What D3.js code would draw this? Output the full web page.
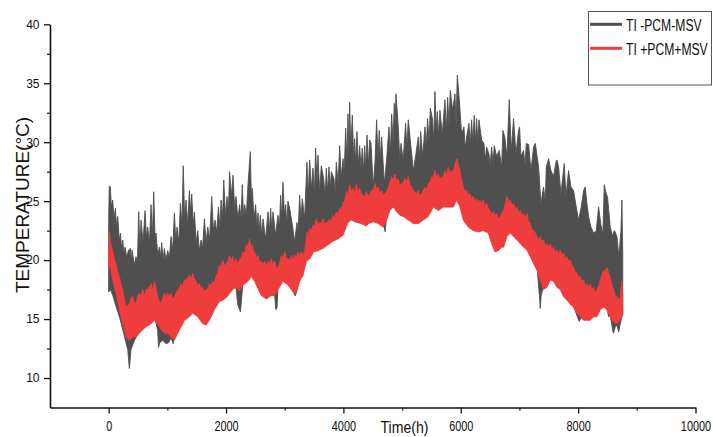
<!DOCTYPE html>
<html>
<head>
<meta charset="utf-8">
<script src="https://cdn.jsdelivr.net/npm/d3@7"></script>
<style>
  html, body { margin: 0; padding: 0; background: #fff; }
  svg { display: block; font-family: "Liberation Sans", Arial, sans-serif; }
</style>
</head>
<body>
<svg id="chart" width="713" height="437"></svg>
<script>
const xTicks = [0, 2000, 4000, 6000, 8000, 10000];
const xMinorTicks = [1000, 3000, 5000, 7000, 9000];
const yTicks = [10, 15, 20, 25, 30, 35, 40];
const yMinorTicks = [12.5, 17.5, 22.5, 27.5, 32.5, 37.5];
const seriesNames = ["TI -PCM-MSV", "TI +PCM+MSV"];
const seriesColors = ["#4f4f4f", "#ef3c3c"];

// Hourly indoor temperature envelopes, [hour, °C]: upper and lower edge of each series
const noPcmUpper = [
  [0,23.5],[10,26.3],[29,26.2],[45,24.5],[69,25.1],[90,23.5],[114,24.4],[135,22.8],[155,23.7],[180,21.6],
  [200,22.3],[220,21.0],[239,21.7],[260,20.6],[279,21.1],[310,20.2],[335,20.8],[370,21.0],[385,19.9],[398,20.85],
  [440,19.6],[466,20.3],[490,19.8],[512,24.1],[532,21.0],[552,23.4],[585,21.5],[620,24.2],[645,21.8],[665,22.8],
  [695,21.5],[722,24.7],[745,22.0],[768,25.8],[790,22.0],[807,22.3],[835,20.5],[864,21.1],[885,20.3],[904,21.5],
  [925,20.0],[949,21.0],[975,20.0],[1006,20.8],[1035,20.2],[1063,22.0],[1090,20.8],[1120,24.0],[1145,21.5],[1165,22.8],
  [1195,21.5],[1222,24.8],[1248,23.0],[1270,28.0],[1295,23.5],[1319,25.1],[1345,23.0],[1376,25.9],[1395,24.0],[1415,25.6],
  [1440,23.0],[1461,24.1],[1490,21.5],[1518,22.5],[1545,20.8],[1575,21.7],[1600,21.0],[1631,23.5],[1660,21.5],[1688,22.8],
  [1720,21.8],[1756,25.4],[1785,22.5],[1813,23.4],[1840,22.3],[1870,24.5],[1895,22.8],[1915,25.1],[1940,23.5],[1961,26.8],
  [1990,23.8],[2018,25.4],[2040,24.0],[2060,27.5],[2095,25.5],[2120,27.2],[2145,24.5],[2171,25.4],[2200,23.5],[2232,24.7],
  [2255,23.5],[2277,26.4],[2300,23.5],[2317,24.7],[2345,23.8],[2374,26.4],[2414,29.2],[2430,25.5],[2448,26.1],[2475,23.5],
  [2504,24.7],[2525,22.8],[2544,24.0],[2565,22.5],[2584,23.8],[2610,22.0],[2629,23.5],[2675,21.8],[2715,24.1],[2740,22.5],
  [2760,24.4],[2780,22.5],[2800,24.1],[2845,22.1],[2885,23.8],[2910,22.8],[2930,25.5],[2950,23.5],[2970,26.6],[2995,23.8],
  [3016,24.7],[3035,23.0],[3055,25.0],[3084,24.4],[3129,23.0],[3169,21.6],[3209,23.2],[3230,22.5],[3254,25.5],[3275,23.5],
  [3300,25.2],[3339,23.5],[3379,28.3],[3400,25.5],[3425,28.5],[3455,26.0],[3481,27.8],[3505,25.5],[3527,29.5],[3550,26.5],
  [3567,28.9],[3595,25.8],[3623,28.0],[3663,26.9],[3690,25.5],[3709,27.8],[3730,25.8],[3754,27.9],[3775,26.0],[3794,27.5],
  [3839,26.9],[3860,25.8],[3879,28.3],[3910,26.5],[3936,29.7],[3965,27.0],[3993,28.6],[4015,27.5],[4038,31.2],[4060,28.5],
  [4078,32.4],[4095,29.0],[4106,33.4],[4125,29.5],[4152,32.3],[4175,28.5],[4191,30.3],[4210,28.2],[4231,30.9],[4255,28.0],
  [4277,29.7],[4300,27.8],[4322,29.5],[4345,27.5],[4362,29.7],[4380,27.8],[4402,30.6],[4425,28.0],[4447,30.2],[4470,29.9],
  [4509,26.2],[4540,28.5],[4566,31.9],[4590,28.5],[4611,31.0],[4630,28.5],[4651,30.45],[4697,26.5],[4736,28.5],[4776,31.3],
  [4800,29.0],[4822,32.4],[4845,30.0],[4867,33.3],[4880,31.0],[4895,34.1],[4935,31.3],[4960,28.5],[4981,29.9],[5020,28.5],
  [5060,31.6],[5080,29.5],[5106,31.9],[5151,29.6],[5191,27.6],[5230,28.8],[5276,30.45],[5295,28.5],[5316,30.9],[5350,28.8],
  [5390,31.3],[5410,29.5],[5435,32.0],[5460,30.0],[5481,32.9],[5520,31.9],[5540,30.0],[5560,34.3],[5580,31.0],[5600,32.6],
  [5620,30.5],[5645,32.7],[5685,30.7],[5730,33.6],[5755,31.0],[5776,33.8],[5800,31.5],[5821,34.4],[5861,32.7],[5901,34.1],
  [5920,31.5],[5941,35.7],[5975,33.6],[6014,30.7],[6054,31.3],[6075,29.5],[6100,30.45],[6139,31.6],[6160,29.8],[6185,31.9],
  [6205,30.0],[6230,32.3],[6250,30.0],[6270,32.0],[6290,30.0],[6310,31.9],[6355,30.2],[6395,29.9],[6420,28.5],[6440,29.6],
  [6480,29.0],[6500,28.0],[6526,29.6],[6550,28.2],[6571,29.7],[6611,28.8],[6656,29.3],[6696,27.9],[6718,31.0],[6752,30.4],
  [6786,28.8],[6826,33.6],[6860,29.3],[6900,32.0],[6940,29.0],[6985,31.0],[7002,31.3],[7025,28.8],[7070,29.3],[7095,28.0],
  [7116,29.9],[7156,29.8],[7196,27.6],[7241,29.6],[7270,29.9],[7300,28.8],[7326,27.9],[7366,24.8],[7411,26.2],[7440,25.0],
  [7457,27.9],[7497,28.6],[7536,27.6],[7582,27.1],[7622,28.3],[7639,28.5],[7667,27.9],[7707,25.6],[7763,28.2],[7792,25.4],
  [7837,27.6],[7877,26.2],[7922,25.9],[7968,24.5],[8008,23.4],[8053,24.5],[8093,25.9],[8121,26.2],[8150,24.8],[8178,23.7],
  [8218,22.8],[8263,22.3],[8309,22.5],[8349,24.5],[8388,23.0],[8422,22.3],[8445,26.4],[8470,25.8],[8502,25.3],[8547,22.8],
  [8587,22.0],[8603,22.4],[8621,22.5],[8661,22.0],[8695,20.3],[8729,22.5],[8746,25.1],[8760,20.5]
];
const noPcmLower = [
  [0,17.3],[30,17.5],[70,17.0],[130,16.0],[182,15.2],[215,14.6],[270,13.5],[325,12.4],[340,11.5],[352,10.8],
  [365,11.5],[380,12.4],[440,13.2],[495,13.7],[523,14.1],[580,14.4],[637,14.65],[722,14.9],[779,15.1],[810,14.6],
  [835,14.0],[850,12.6],[870,13.0],[920,13.2],[980,12.9],[1020,13.0],[1063,13.4],[1100,12.9],[1120,13.5],[1177,14.1],
  [1234,14.65],[1291,15.2],[1376,15.5],[1433,15.8],[1518,15.5],[1603,14.9],[1660,14.8],[1716,15.2],[1802,16.1],[1887,16.8],
  [1944,16.9],[2018,17.2],[2114,17.8],[2171,17.6],[2200,16.2],[2245,15.6],[2270,17.0],[2288,18.2],[2374,18.5],[2430,18.9],
  [2487,18.5],[2544,17.9],[2601,17.3],[2686,17.0],[2771,17.3],[2828,17.0],[2850,15.8],[2870,16.0],[2885,17.8],[2970,18.5],
  [3055,18.2],[3141,17.5],[3169,17.0],[3185,17.0],[3197,17.5],[3254,18.5],[3311,19.0],[3368,20.2],[3425,20.4],[3493,21.0],
  [3567,21.1],[3652,21.3],[3737,21.6],[3822,21.9],[3907,22.1],[3993,22.4],[4078,23.5],[4135,23.7],[4220,23.5],[4305,23.4],
  [4390,23.2],[4509,23.55],[4594,23.4],[4680,23.1],[4712,22.4],[4736,23.7],[4793,24.5],[4850,24.8],[4907,24.4],[4963,24.1],
  [5020,24.0],[5106,23.7],[5191,23.4],[5276,23.4],[5361,23.7],[5446,24.0],[5532,24.8],[5617,24.5],[5702,24.8],[5787,24.8],
  [5873,24.8],[5929,25.4],[5986,24.8],[6043,23.7],[6128,23.1],[6213,22.8],[6298,22.7],[6384,22.8],[6469,22.6],[6526,21.7],
  [6582,21.0],[6639,21.1],[6696,21.4],[6786,22.3],[6843,22.6],[6900,22.3],[6957,22.0],[7014,21.7],[7070,21.4],[7127,21.15],
  [7184,20.6],[7241,20.0],[7298,19.45],[7340,17.0],[7354,15.9],[7370,17.0],[7411,17.8],[7468,18.0],[7525,18.6],[7582,18.5],
  [7638,18.0],[7695,17.8],[7752,17.2],[7809,16.9],[7866,16.3],[7876,16.2],[7900,16.3],[7950,15.7],[8018,14.8],[8036,15.0],
  [8093,15.2],[8150,15.2],[8206,15.2],[8263,15.5],[8320,15.5],[8377,16.1],[8434,16.3],[8490,16.0],[8518,15.2],[8547,15.3],
  [8590,14.0],[8603,13.8],[8630,14.3],[8661,14.5],[8690,13.9],[8718,14.6],[8760,15.5]
];
const pcmUpper = [
  [0,20.5],[12,22.4],[40,21.2],[69,20.8],[100,20.0],[126,19.7],[155,19.0],[182,18.6],[210,18.0],[239,17.5],
  [270,16.6],[296,16.0],[325,16.2],[353,16.3],[380,16.8],[410,16.9],[440,16.4],[466,16.3],[495,17.0],[523,17.2],
  [550,17.0],[580,17.5],[610,17.0],[637,17.5],[680,17.6],[722,18.0],[750,17.4],[779,18.2],[810,17.5],[836,16.9],
  [865,16.5],[893,16.3],[920,16.8],[949,17.2],[980,16.8],[1006,17.2],[1035,16.9],[1063,17.2],[1090,16.7],[1120,16.9],
  [1150,17.2],[1177,17.5],[1205,17.6],[1234,18.0],[1260,17.8],[1291,18.3],[1330,18.4],[1376,18.7],[1405,18.4],[1433,18.9],
  [1460,18.4],[1490,18.2],[1518,17.8],[1546,18.0],[1575,17.6],[1603,17.7],[1630,17.3],[1660,17.5],[1690,17.6],[1716,18.0],
  [1745,17.8],[1773,18.2],[1800,18.0],[1830,18.6],[1860,19.0],[1887,19.6],[1915,19.4],[1944,20.0],[1970,19.5],[2001,19.7],
  [2030,19.9],[2058,20.4],[2085,20.0],[2114,20.3],[2140,19.8],[2175,20.1],[2200,19.6],[2232,20.1],[2260,20.2],[2288,20.7],
  [2315,20.5],[2345,21.3],[2375,21.2],[2402,21.8],[2425,21.0],[2448,21.3],[2470,20.6],[2487,20.7],[2515,20.2],[2544,20.4],
  [2570,19.8],[2601,19.9],[2630,19.6],[2658,19.9],[2685,19.5],[2715,19.9],[2745,19.7],[2771,20.1],[2800,19.6],[2828,19.9],
  [2855,19.4],[2885,19.3],[2915,19.8],[2942,20.4],[2970,20.2],[2999,20.7],[3025,20.2],[3055,20.1],[3085,20.0],[3112,20.4],
  [3140,20.0],[3169,20.4],[3200,20.3],[3226,20.7],[3255,20.4],[3283,20.7],[3310,20.4],[3339,20.7],[3360,21.6],[3379,22.4],
  [3400,22.0],[3425,22.7],[3450,22.4],[3481,23.0],[3510,22.8],[3538,23.5],[3565,23.0],[3595,23.2],[3625,23.1],[3652,23.5],
  [3680,23.0],[3709,23.2],[3735,23.2],[3765,23.5],[3795,23.3],[3822,23.8],[3850,23.6],[3879,24.1],[3905,23.9],[3936,24.4],
  [3965,24.3],[3993,24.9],[4020,25.0],[4050,25.8],[4078,25.6],[4106,26.4],[4135,25.8],[4163,26.1],[4190,25.7],[4220,26.4],
  [4250,25.8],[4277,26.1],[4305,25.6],[4334,25.5],[4360,25.3],[4390,25.8],[4420,25.4],[4447,25.6],[4481,25.9],[4510,26.0],
  [4538,26.5],[4566,26.0],[4594,26.2],[4620,25.7],[4651,25.9],[4680,25.5],[4708,25.65],[4736,25.8],[4765,26.2],[4795,26.6],
  [4822,27.1],[4850,26.8],[4878,27.3],[4905,26.7],[4935,26.9],[4965,26.3],[4992,26.5],[5020,26.6],[5049,26.9],[5078,26.6],
  [5106,27.1],[5135,26.4],[5162,26.2],[5190,25.9],[5219,25.8],[5248,25.6],[5276,25.9],[5305,25.4],[5333,25.65],[5360,25.9],
  [5390,26.2],[5418,26.0],[5446,26.5],[5475,26.6],[5503,27.1],[5530,27.0],[5560,27.6],[5590,27.0],[5617,27.3],[5645,26.8],
  [5674,27.1],[5700,27.0],[5730,27.6],[5760,27.2],[5787,27.9],[5815,27.3],[5844,27.6],[5872,27.4],[5901,28.2],[5935,28.6],
  [5960,28.0],[5986,27.6],[6015,26.8],[6043,26.2],[6070,25.8],[6100,25.9],[6128,25.5],[6156,25.65],[6185,25.2],[6213,25.4],
  [6240,25.0],[6270,25.2],[6298,24.9],[6327,25.1],[6355,24.8],[6384,25.1],[6410,24.6],[6440,24.8],[6470,24.4],[6497,24.2],
  [6525,23.9],[6554,24.1],[6582,23.8],[6611,23.95],[6640,23.5],[6668,23.7],[6700,24.0],[6730,24.2],[6760,24.8],[6786,25.4],
  [6815,24.9],[6843,25.1],[6870,24.6],[6900,24.8],[6930,24.3],[6957,24.5],[6985,24.0],[7014,24.2],[7040,23.8],[7070,23.95],
  [7100,23.6],[7127,23.95],[7155,23.3],[7184,23.1],[7210,22.6],[7241,22.5],[7270,22.3],[7298,22.0],[7325,21.7],[7354,22.0],
  [7380,21.6],[7411,21.7],[7440,21.2],[7468,21.4],[7495,21.1],[7525,21.4],[7555,20.9],[7582,21.1],[7610,20.6],[7638,20.85],
  [7665,20.5],[7695,20.85],[7725,20.4],[7752,20.6],[7780,20.1],[7809,20.3],[7838,19.9],[7866,20.0],[7895,19.5],[7922,19.4],
  [7950,19.0],[7979,18.9],[8008,18.5],[8036,18.6],[8065,18.2],[8093,18.3],[8120,17.8],[8150,18.0],[8178,17.7],[8206,18.0],
  [8235,17.5],[8263,17.7],[8290,17.2],[8320,17.5],[8350,17.8],[8377,18.3],[8405,18.8],[8434,19.15],[8460,19.0],[8490,19.4],
  [8520,18.9],[8547,18.6],[8575,17.9],[8604,17.5],[8632,17.0],[8661,16.9],[8690,16.6],[8718,16.9],[8745,18.2],[8760,17.0]
];
const pcmLower = [
  [0,19.3],[25,19.5],[69,18.3],[126,17.2],[182,15.8],[239,14.6],[296,13.5],[353,13.2],[410,13.5],[466,13.5],
  [523,13.8],[580,14.1],[637,14.35],[722,14.6],[779,14.9],[836,14.6],[893,14.1],[949,13.8],[1006,13.8],[1063,13.5],
  [1120,13.2],[1177,13.8],[1234,14.35],[1291,14.9],[1376,15.2],[1433,15.5],[1518,15.2],[1603,14.6],[1660,14.5],[1716,14.9],
  [1802,15.8],[1887,16.5],[1944,16.6],[2018,16.9],[2114,17.5],[2171,17.7],[2228,17.4],[2288,17.9],[2374,18.2],[2430,18.6],
  [2487,18.2],[2544,17.6],[2601,17.0],[2686,16.7],[2771,17.0],[2828,17.0],[2885,17.5],[2970,18.2],[3055,17.9],[3141,17.3],
  [3197,17.2],[3254,18.2],[3311,18.7],[3368,19.9],[3425,20.1],[3493,20.7],[3567,20.8],[3652,21.0],[3737,21.3],[3822,21.6],
  [3907,21.8],[3993,22.1],[4078,23.2],[4135,23.4],[4220,23.2],[4305,23.1],[4390,22.9],[4424,23.1],[4509,23.25],[4594,23.1],
  [4680,22.8],[4736,23.4],[4793,24.2],[4850,24.5],[4907,24.1],[4963,23.8],[5020,23.7],[5106,23.4],[5191,23.1],[5276,23.1],
  [5361,23.4],[5446,23.7],[5532,24.5],[5617,24.2],[5702,24.5],[5787,24.5],[5873,24.5],[5929,25.1],[5986,24.5],[6043,23.4],
  [6128,22.8],[6213,22.5],[6298,22.4],[6384,22.5],[6469,22.3],[6526,21.4],[6582,20.7],[6639,20.8],[6696,21.1],[6730,21.1],
  [6786,22.0],[6843,22.3],[6900,22.0],[6957,21.7],[7014,21.4],[7070,21.1],[7127,20.85],[7184,20.3],[7241,19.7],[7298,19.15],
  [7354,18.3],[7411,17.5],[7468,17.7],[7525,18.3],[7582,18.2],[7638,17.7],[7695,17.5],[7752,16.9],[7809,16.6],[7866,16.3],
  [7922,16.0],[7979,15.5],[8036,15.2],[8093,14.9],[8150,14.9],[8206,14.9],[8263,15.2],[8320,15.2],[8377,15.8],[8434,16.0],
  [8490,15.8],[8547,15.2],[8604,14.8],[8661,14.6],[8718,14.9],[8760,15.4]
];

const svg = d3.select("#chart");
const fontFamily = "'Liberation Sans', Arial, sans-serif";

const x = d3.scaleLinear().domain([-1000, 10000]).range([50, 695.5]);
const y = d3.scaleLinear().domain([7.5, 40]).range([407.5, 24.3]);

// Each series is filled between its upper and lower hourly edge
const edge = d3.line().x(d => x(d[0])).y(d => y(d[1]));
const band = (upper, lower) => edge(upper.concat(lower.slice().reverse())) + "Z";

const bands = [[noPcmUpper, noPcmLower], [pcmUpper, pcmLower]];
bands.forEach(([upper, lower], i) => {
  svg.append("path")
    .attr("d", band(upper, lower))
    .attr("fill", seriesColors[i])
    .attr("stroke", seriesColors[i])
    .attr("stroke-width", 0.9)
    .attr("stroke-linejoin", "round");
});

// X axis
const xAxis = svg.append("g")
  .attr("transform", `translate(0,${y(7.5)})`)
  .call(d3.axisBottom(x).tickValues(xTicks).tickSize(6).tickSizeOuter(0).tickFormat(d3.format("d")));
xAxis.select(".domain").attr("stroke", "#111").attr("stroke-width", 1.6);
xAxis.selectAll(".tick line").attr("stroke", "#111").attr("stroke-width", 1.3);
xAxis.selectAll(".tick text")
  .attr("y", 23.5).attr("dy", 0)
  .attr("transform", "scale(0.78,1)")
  .attr("font-size", 14).attr("font-family", fontFamily).attr("fill", "#111");

svg.append("g")
  .attr("transform", `translate(0,${y(7.5)})`)
  .call(d3.axisBottom(x).tickValues(xMinorTicks).tickSize(3).tickSizeOuter(0).tickFormat(""))
  .call(g => g.select(".domain").remove())
  .selectAll(".tick line").attr("stroke", "#111").attr("stroke-width", 1.2);

// Y axis
const yAxis = svg.append("g")
  .attr("transform", `translate(${x(-1000)},0)`)
  .call(d3.axisLeft(y).tickValues(yTicks).tickSize(6).tickSizeOuter(0));
yAxis.select(".domain").attr("stroke", "#111").attr("stroke-width", 1.6);
yAxis.selectAll(".tick line").attr("stroke", "#111").attr("stroke-width", 1.3);
yAxis.selectAll(".tick text")
  .attr("x", -10.5)
  .attr("font-size", 12).attr("font-family", fontFamily).attr("fill", "#111");

svg.append("g")
  .attr("transform", `translate(${x(-1000)},0)`)
  .call(d3.axisLeft(y).tickValues(yMinorTicks).tickSize(3).tickSizeOuter(0).tickFormat(""))
  .call(g => g.select(".domain").remove())
  .selectAll(".tick line").attr("stroke", "#111").attr("stroke-width", 1.2);

// Axis titles
svg.append("text")
  .attr("transform", "translate(404.5,433) scale(0.88,1)")
  .attr("text-anchor", "middle")
  .attr("font-size", 16).attr("fill", "#111")
  .text("Time(h)");

svg.append("text")
  .attr("transform", "translate(28.5,205) rotate(-90)")
  .attr("text-anchor", "middle")
  .attr("font-size", 19).attr("fill", "#111")
  .text("TEMPERATURE(°C)");

// Legend box in the top-right corner
const legend = svg.append("g");
legend.append("rect")
  .attr("x", 588.5).attr("y", 11.5).attr("width", 123).attr("height", 73.5)
  .attr("fill", "#fff").attr("stroke", "#555").attr("stroke-width", 1);
seriesNames.forEach((name, i) => {
  legend.append("line")
    .attr("x1", 590).attr("x2", 622)
    .attr("y1", 24.3 + i * 24).attr("y2", 24.3 + i * 24)
    .attr("stroke", seriesColors[i]).attr("stroke-width", 3);
  legend.append("text")
    .attr("transform", `translate(626,${30.5 + i * 24}) scale(0.76,1)`)
    .attr("font-size", 16).attr("fill", "#111")
    .text(name);
});
</script>
</body>
</html>
